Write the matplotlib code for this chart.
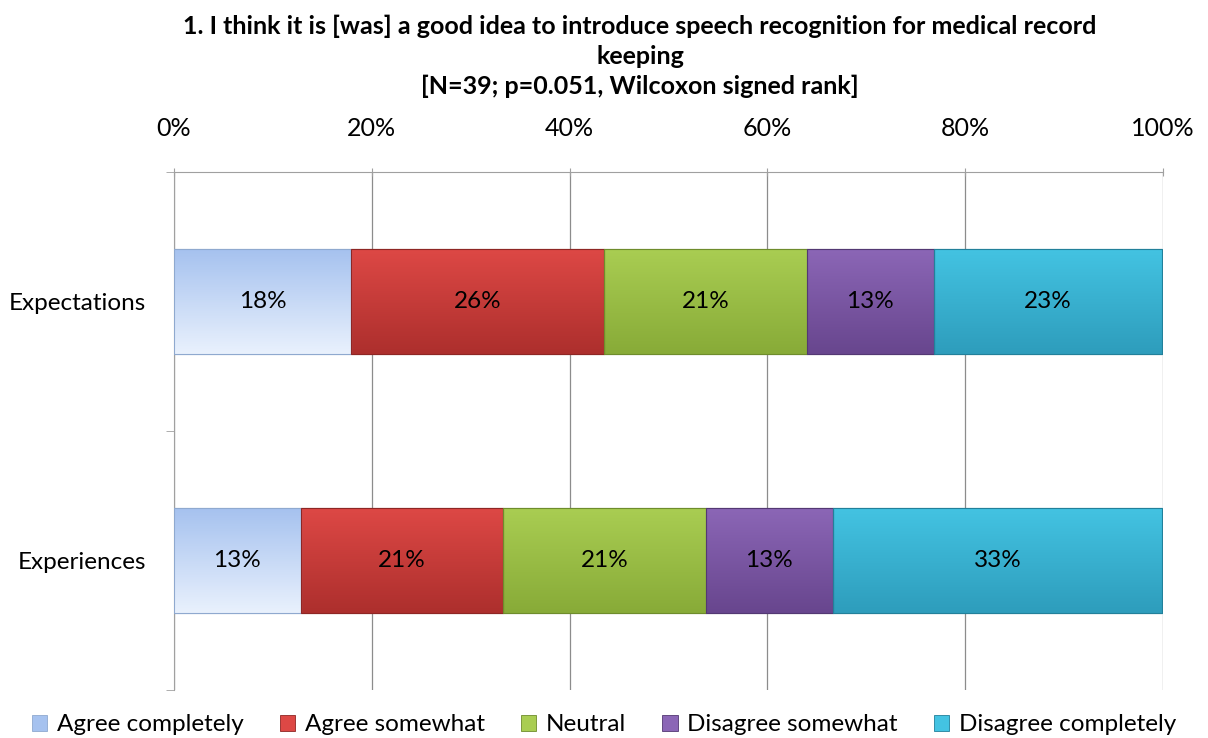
import matplotlib
matplotlib.use("Agg")
import matplotlib.pyplot as plt
import numpy as np
from matplotlib.colors import LinearSegmentedColormap
from matplotlib.patches import Rectangle

plt.rcParams['font.family'] = ['Lato', 'DejaVu Sans']

categories = ["Experiences", "Expectations"]
series = ["Agree completely", "Agree somewhat", "Neutral", "Disagree somewhat", "Disagree completely"]
expectations = [17.9, 25.6, 20.5, 12.8, 23.1]
experiences = [12.8, 20.5, 20.5, 12.8, 33.3]
values = [experiences, expectations]
xticks = [0, 20, 40, 60, 80, 100]
title = "1. I think it is [was] a good idea to introduce speech recognition for medical record\nkeeping\n[N=39; p=0.051, Wilcoxon signed rank]"

# gradient colours (top, bottom)
grad = [("#a6c2ef", "#e9f1fd"), ("#dd4845", "#ad2f2d"), ("#a9cd52", "#88ab38"),
        ("#8b66b6", "#68468e"), ("#43c3e2", "#2e9dbc")]
edge = ["#8fa9cf", "#8e2624", "#6e8c2c", "#533873", "#22809a"]

fs = 17.5

fig = plt.figure(figsize=(12.08, 7.38), dpi=100)
ax = fig.add_axes([174/1208, 1-690/738, (1163-174)/1208, (690-172)/738])

bar_h = 0.405
for ci, cat in enumerate(categories):
    left = 0
    for si, v in enumerate(values[ci]):
        r = ax.barh(ci, v, left=left, height=bar_h, color=grad[si][0], edgecolor=edge[si],
                    linewidth=0.8, zorder=3)[0]
        cmap = LinearSegmentedColormap.from_list("g", [grad[si][1], grad[si][0]])
        im = ax.imshow(np.linspace(0, 1, 64).reshape(-1, 1), cmap=cmap, aspect='auto',
                       origin='lower',
                       extent=[left, left + v, ci - bar_h/2, ci + bar_h/2], zorder=3.5)
        im.set_clip_path(r)
        ax.add_patch(Rectangle((left, ci - bar_h/2), v, bar_h, fill=False,
                               edgecolor=edge[si], linewidth=0.8, zorder=4))
        ax.text(left + v/2, ci, f"{int(v + 0.5)}%", ha='center', va='center',
                fontsize=fs, color='black', zorder=5)
        left += v

ax.set_xlim(0, 100)
ax.set_ylim(-0.5, 1.5)
ax.xaxis.tick_top()
ax.set_xticks(xticks)
ax.set_xticklabels([f"{t}%" for t in xticks], fontsize=18)
ax.tick_params(axis='x', length=6, color='#a0a0a0', pad=20, direction='inout')
ax.set_yticks([0, 1])
ax.set_yticklabels(categories, fontsize=fs)
ax.set_yticks([-0.5, 0.5, 1.5], minor=True)
ax.tick_params(axis='y', which='major', length=0, pad=20)
ax.tick_params(axis='y', which='minor', length=6, color='#a0a0a0')
ax.grid(axis='x', color='#8c8c8c', linewidth=0.9, zorder=0)
ax.set_axisbelow(True)
for s in ['bottom', 'right']:
    ax.spines[s].set_visible(False)
ax.spines['left'].set_color('#a0a0a0')
ax.spines['top'].set_color('#a0a0a0')

fig.text(640/1208, 1-15/738, title, ha='center', va='top', fontsize=18, fontweight='bold',
         linespacing=1.35)

handles = [Rectangle((0, 0), 1, 1, facecolor=grad[i][0], edgecolor=edge[i], linewidth=0.6)
           for i in range(5)]
fig.legend(handles, series, loc='lower center', bbox_to_anchor=(0.5, -0.026), ncol=5,
           frameon=False, fontsize=fs, handlelength=0.62, handleheight=0.62,
           handletextpad=0.4, columnspacing=1.5)

fig.savefig("out.png", dpi=100)
